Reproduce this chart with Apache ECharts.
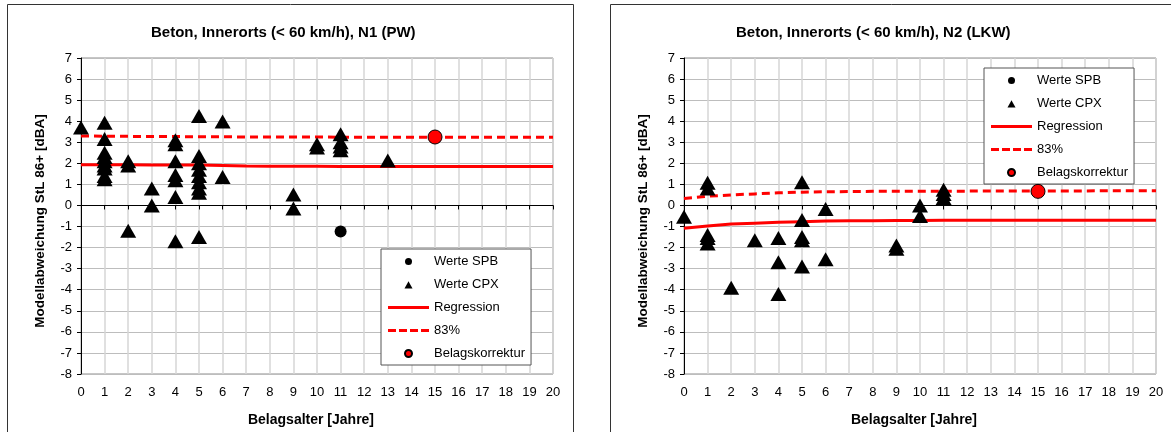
<!DOCTYPE html>
<html>
<head>
<meta charset="utf-8">
<script src="https://cdn.jsdelivr.net/npm/echarts@6/dist/echarts.min.js"></script>
<style>
  html, body { margin: 0; padding: 0; background: #fff; }
  #chart { width: 1171px; height: 432px; }
</style>
</head>
<body>
<div id="chart"></div>
<script>
// Belagsalter (x) 0..20
const years = [0, 1, 2, 3, 4, 5, 6, 7, 8, 9, 10, 11, 12, 13, 14, 15, 16, 17, 18, 19, 20];

// N1 (PW) - Werte CPX [Alter, Abweichung]
const cpxN1 = [
  [0, 3.7],
  [1, 3.93], [1, 3.15], [1, 2.5], [1, 2.3], [1, 2.1], [1, 1.9], [1, 1.75], [1, 1.4], [1, 1.25],
  [2, 2.1], [2, 1.9], [2, -1.2],
  [3, 0.8], [3, 0.0],
  [4, 3.1], [4, 2.9], [4, 2.1], [4, 1.45], [4, 1.2], [4, 0.4], [4, -1.7],
  [5, 4.25], [5, 2.35], [5, 2.0], [5, 1.7], [5, 1.4], [5, 1.1], [5, 0.8], [5, 0.6], [5, -1.5],
  [6, 3.98], [6, 1.35],
  [9, 0.52], [9, -0.14],
  [10, 2.9], [10, 2.75],
  [11, 3.38], [11, 3.0], [11, 2.8], [11, 2.62],
  [13, 2.13]
];
const spbN1 = [[11, -1.24]];
const korrN1 = [[15, 3.25]];
const regN1 = [1.93, 1.93, 1.93, 1.92, 1.92, 1.92, 1.9, 1.87, 1.86, 1.86, 1.86, 1.85, 1.85, 1.85, 1.85, 1.85, 1.85, 1.85, 1.85, 1.85, 1.85];
const p83N1 = [3.3, 3.29, 3.28, 3.27, 3.27, 3.26, 3.26, 3.25, 3.25, 3.25, 3.25, 3.24, 3.24, 3.24, 3.24, 3.24, 3.24, 3.24, 3.24, 3.24, 3.24];

// N2 (LKW)
const cpxN2 = [
  [0, -0.54],
  [1, 1.08], [1, 0.8], [1, -1.4], [1, -1.55], [1, -1.8],
  [2, -3.9],
  [3, -1.65],
  [4, -1.55], [4, -2.7], [4, -4.2],
  [5, 1.1], [5, -0.69], [5, -1.5], [5, -1.65], [5, -2.9],
  [6, -0.17], [6, -2.55],
  [9, -1.9], [9, -2.05],
  [10, 0.0], [10, -0.5],
  [11, 0.75], [11, 0.55], [11, 0.35]
];
const spbN2 = [];
const korrN2 = [[15, 0.67]];
const regN2 = [-1.08, -0.98, -0.88, -0.84, -0.8, -0.77, -0.74, -0.73, -0.72, -0.71, -0.71, -0.7, -0.7, -0.7, -0.7, -0.7, -0.7, -0.7, -0.7, -0.7, -0.7];
const p83N2 = [0.33, 0.44, 0.5, 0.55, 0.6, 0.63, 0.65, 0.66, 0.67, 0.67, 0.68, 0.68, 0.68, 0.69, 0.69, 0.69, 0.69, 0.69, 0.7, 0.7, 0.7];

const titles = ['Beton, Innerorts (< 60 km/h), N1 (PW)', 'Beton, Innerorts (< 60 km/h), N2 (LKW)'];

const FONT = 'Liberation Sans, Arial, sans-serif';
const pair = (arr) => years.map((y, i) => [y, arr[i]]);

// Legendensymbole als Pfade über die volle Symbolbreite (41x8), damit nichts verzerrt wird
const solidIcon = 'path://M0,0 M41,8 M0,2.5 L41,2.5 L41,5.5 L0,5.5 Z';
const dashIcon = 'path://M0,0 M41,8 M0,2.5 L8,2.5 L8,5.5 L0,5.5 Z M11,2.5 L19,2.5 L19,5.5 L11,5.5 Z M22,2.5 L30,2.5 L30,5.5 L22,5.5 Z M33,2.5 L41,2.5 L41,5.5 L33,5.5 Z';
const triIcon = 'path://M0,0 M41,8 M16.5,8 L20.5,0.8 L24.5,8 Z';
const dotIcon = 'path://M0,0 M41,8 M24,4 A3.5,3.5 0 1 1 17,4 A3.5,3.5 0 1 1 24,4 Z';
const legendData = [
  { name: 'Werte SPB', icon: dotIcon, itemStyle: { color: '#000' } },
  { name: 'Werte CPX', icon: triIcon, itemStyle: { color: '#000' } },
  { name: 'Regression', icon: solidIcon, itemStyle: { color: '#ff0000' } },
  { name: '83%', icon: dashIcon, itemStyle: { color: '#ff0000' } },
  { name: 'Belagskorrektur', icon: dotIcon, itemStyle: { color: '#ff0000' } }
];

// x-Achsen: je Diagramm eine auf der Nulllinie (Linie + Ticks) und eine unten (Beschriftung + Gitter)
const xAxes = [];
const yAxes = [];
[0, 1].forEach((g) => {
  xAxes.push({
    type: 'value', gridIndex: g, min: 0, max: 20, interval: 1, position: 'bottom',
    axisLine: { onZero: true, lineStyle: { color: '#000', width: 1 } },
    axisTick: { show: true, length: 4, lineStyle: { color: '#000' } },
    axisLabel: { show: false },
    splitLine: { show: false }
  });
  xAxes.push({
    type: 'value', gridIndex: g, min: 0, max: 20, interval: 1, position: 'bottom',
    axisLine: { show: false, onZero: false },
    axisTick: { show: false },
    axisLabel: { color: '#000', fontSize: 13, fontFamily: FONT, margin: 12 },
    splitLine: { show: true, lineStyle: { color: '#d6d6d6', width: 1.5 } },
    name: 'Belagsalter [Jahre]', nameLocation: 'middle', nameGap: 39,
    nameTextStyle: { color: '#000', fontSize: 14, fontWeight: 'bold', fontFamily: FONT, padding: [0, 12, 0, 0] }
  });
  yAxes.push({
    type: 'value', gridIndex: g, min: -8, max: 7, interval: 1,
    axisLine: { show: true, onZero: false, lineStyle: { color: '#000', width: 1 } },
    axisTick: { show: true, length: 4, lineStyle: { color: '#000' } },
    axisLabel: { color: '#000', fontSize: 13, fontFamily: FONT, margin: 9 },
    splitLine: { show: true, lineStyle: { color: '#bdbdbd', width: 1 } },
    name: 'Modellabweichung StL 86+ [dBA]', nameLocation: 'middle', nameGap: 34, nameRotate: 90,
    nameTextStyle: { color: '#000', fontSize: 13.5, fontWeight: 'bold', fontFamily: FONT, padding: [0, 10, 0, 0] }
  });
});

function seriesFor(g, spb, cpx, reg, p83, korr) {
  const xi = g * 2, yi = g;
  return [
    { name: 'Werte SPB', type: 'scatter', xAxisIndex: xi, yAxisIndex: yi, data: spb,
      symbol: 'circle', symbolSize: 12, itemStyle: { color: '#000', opacity: 1 }, z: 5 },
    { name: 'Werte CPX', type: 'scatter', xAxisIndex: xi, yAxisIndex: yi, data: cpx,
      symbol: 'triangle', symbolSize: [16, 14], itemStyle: { color: '#000', opacity: 1 }, z: 5 },
    { name: 'Regression', type: 'line', xAxisIndex: xi, yAxisIndex: yi, data: pair(reg),
      symbol: 'none', lineStyle: { color: '#ff0000', width: 3 }, itemStyle: { color: '#ff0000' }, z: 3 },
    { name: '83%', type: 'line', xAxisIndex: xi, yAxisIndex: yi, data: pair(p83),
      symbol: 'none', lineStyle: { color: '#ff0000', width: 3, type: [8, 5] }, itemStyle: { color: '#ff0000' }, z: 3 },
    { name: 'Belagskorrektur', type: 'scatter', xAxisIndex: xi, yAxisIndex: yi, data: korr,
      symbol: 'circle', symbolSize: 14, itemStyle: { color: '#ff0000', borderColor: '#000', borderWidth: 1, opacity: 1 }, z: 6 }
  ];
}

const legendBase = {
  data: legendData, orient: 'vertical', itemWidth: 41, itemHeight: 8, itemGap: 10,
  padding: [6, 6, 5, 6], borderColor: '#555', borderWidth: 1, backgroundColor: '#fff',
  selectedMode: false,
  textStyle: { color: '#000', fontSize: 13, fontFamily: FONT }
};

const titleStyle = { fontSize: 15, fontWeight: 'bold', color: '#000', fontFamily: FONT };

const chart = echarts.init(document.getElementById('chart'));
chart.setOption({
  animation: false,
  backgroundColor: '#fff',
  title: [
    { text: titles[0], left: 146, top: 20, textStyle: titleStyle },
    { text: titles[1], left: 731, top: 20, textStyle: titleStyle }
  ],
  grid: [
    { left: 81, top: 58, width: 472, height: 319, show: true, borderColor: '#8c8c8c', borderWidth: 1 },
    { left: 684, top: 58, width: 472, height: 319, show: true, borderColor: '#8c8c8c', borderWidth: 1 }
  ],
  xAxis: xAxes,
  yAxis: yAxes,
  legend: [
    Object.assign({}, legendBase, { left: 381, top: 249 }),
    Object.assign({}, legendBase, { left: 984, top: 68 })
  ],
  // Rahmen der beiden Diagrammflächen
  graphic: [
    { type: 'rect', shape: { x: 7.5, y: 4.5, width: 566, height: 440 }, style: { fill: 'none', stroke: '#333', lineWidth: 1 }, silent: true },
    { type: 'rect', shape: { x: 610.5, y: 4.5, width: 570, height: 440 }, style: { fill: 'none', stroke: '#333', lineWidth: 1 }, silent: true }
  ],
  series: [].concat(
    seriesFor(0, spbN1, cpxN1, regN1, p83N1, korrN1),
    seriesFor(1, spbN2, cpxN2, regN2, p83N2, korrN2)
  )
});
</script>
</body>
</html>
